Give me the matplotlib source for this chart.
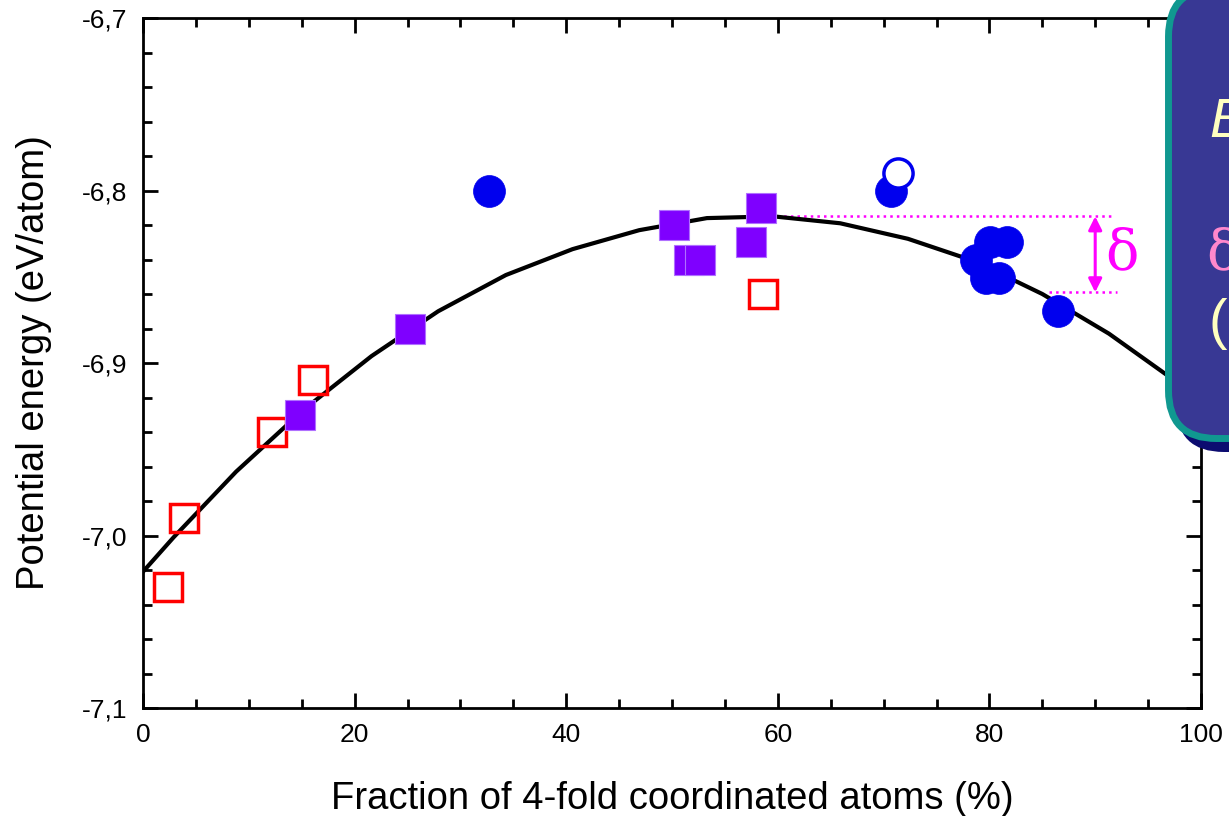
import matplotlib
matplotlib.use("Agg")
import matplotlib.pyplot as plt
from matplotlib.patches import FancyBboxPatch
from matplotlib.transforms import IdentityTransform
from matplotlib.ticker import MultipleLocator, FuncFormatter

plt.rcParams['font.family'] = ['Liberation Sans', 'DejaVu Sans']

# data
red_x = [2.4, 3.9, 12.2, 16.1, 58.6]
red_y = [-7.03, -6.99, -6.94, -6.91, -6.86]

purple_x = [14.85, 25.2, 50.2, 51.6, 52.6, 57.5, 58.4]
purple_y = [-6.93, -6.88, -6.82, -6.84, -6.84, -6.83, -6.81]

blue_x = [32.7, 70.7, 80.1, 81.7, 78.7, 79.7, 80.9, 86.5]
blue_y = [-6.80, -6.80, -6.83, -6.83, -6.84, -6.851, -6.851, -6.87]

open_x = [71.4]
open_y = [-6.79]

fit_x = [0, 2.9, 8.8, 15.2, 21.6, 27.9, 34.3, 40.6, 46.9, 53.3, 59.6,
         65.9, 72.3, 78.6, 85.0, 91.3, 97.7, 100]
fit_y = [-7.021, -7.001, -6.963, -6.927, -6.896, -6.870, -6.849, -6.834,
         -6.823, -6.816, -6.815, -6.819, -6.828, -6.841, -6.860, -6.883,
         -6.911, -6.923]

delta_top = -6.815
delta_bot = -6.859

fig = plt.figure(figsize=(12.29, 8.16), dpi=100)
ax = fig.add_axes([143 / 1229, 108 / 816, 1058 / 1229, 690 / 816])

ax.plot(fit_x, fit_y, color='black', lw=3, zorder=3)

ax.plot(red_x, red_y, 's', ms=20.5, mfc='none', mec='#ff0000', mew=2.5, zorder=4)
ax.plot(purple_x, purple_y, 's', ms=21.5, mfc='#7f00ff', mec='#b070ff', mew=0.8, zorder=4)
ax.plot(blue_x, blue_y, 'o', ms=23, mfc='#0000ee', mec='#0000ee', mew=0.5, zorder=4)
ax.plot(open_x, open_y, 'o', ms=21, mfc='white', mec='#0000ee', mew=2.5, zorder=5)

# delta annotation
ax.plot([56.8, 91.7], [delta_top, delta_top], color='#ff00ff', lw=1.8, ls=':', zorder=2)
ax.plot([85.6, 92.1], [delta_bot, delta_bot], color='#ff00ff', lw=1.8, ls=':', zorder=2)
ax.annotate('', xy=(90.0, delta_top), xytext=(90.0, delta_bot),
            arrowprops=dict(arrowstyle='<|-|>', color='#ff00ff', lw=2.2,
                            mutation_scale=20, shrinkA=0, shrinkB=0))
ax.text(92.5, (delta_top + delta_bot) / 2, 'δ', color='#ff00ff', fontsize=40,
        family='DejaVu Serif', ha='center', va='center')

ax.set_xlim(0, 100)
ax.set_ylim(-7.1, -6.7)
ax.xaxis.set_major_locator(MultipleLocator(20))
ax.xaxis.set_minor_locator(MultipleLocator(5))
ax.yaxis.set_major_locator(MultipleLocator(0.1))
ax.yaxis.set_minor_locator(MultipleLocator(0.02))
ax.yaxis.set_major_formatter(FuncFormatter(lambda v, p: f'{v:.1f}'.replace('.', ',')))
ax.tick_params(which='both', direction='in', top=True, right=True, width=2)
ax.tick_params(which='major', length=11, labelsize=19)
ax.tick_params(which='minor', length=6.5)
ax.tick_params(axis='y', pad=11)
ax.tick_params(axis='x', pad=11)
for s in ax.spines.values():
    s.set_linewidth(2)

ax.set_xlabel('Fraction of 4-fold coordinated atoms (%)', fontsize=27.5, labelpad=24)
ax.set_ylabel('Potential energy (eV/atom)', fontsize=27.5, labelpad=22)

# info box at the right edge (partly outside the canvas)
pix = IdentityTransform()
shadow = FancyBboxPatch((1176, 364), 300, 440, boxstyle='round,pad=0,rounding_size=48',
                        fc='#0c0c70', ec='none', transform=pix, zorder=5)
box = FancyBboxPatch((1168.5, 377.5), 300, 450, boxstyle='round,pad=0,rounding_size=48',
                     fc='#383894', ec='#109890', lw=5, transform=pix, zorder=6)
fig.patches.extend([shadow, box])
fig.text(1209, 693, 'E', transform=pix, color='#ffffc0', fontsize=40, style='italic',
         va='center', ha='left', zorder=7)
fig.text(1206, 562, 'δ', transform=pix, color='#ff88cc', fontsize=40,
         family='DejaVu Serif', va='center', ha='left', zorder=7)
fig.text(1209, 492, '(', transform=pix, color='#ffffc0', fontsize=40,
         va='center', ha='left', zorder=7)

fig.savefig('out.png', dpi=100)
